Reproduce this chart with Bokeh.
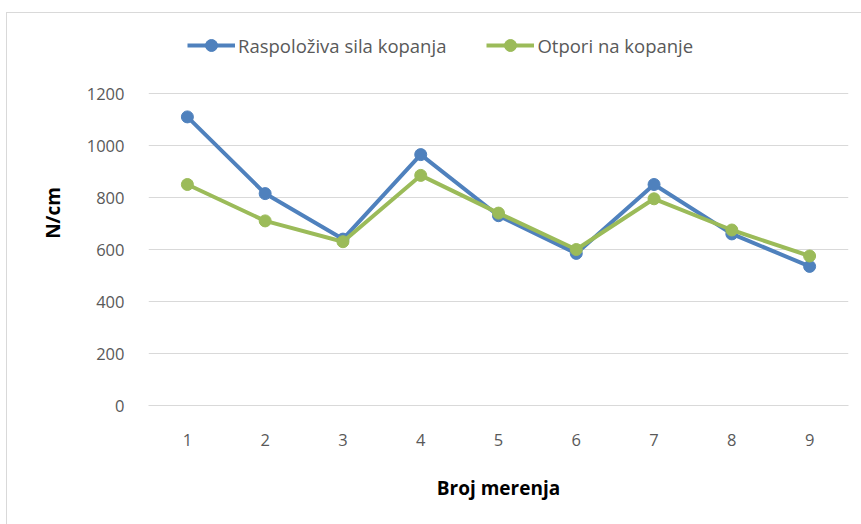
from bokeh.plotting import figure
from bokeh.models import Legend, LegendItem, FixedTicker
from bokeh.embed import file_html
from bokeh.resources import INLINE

# measurement index and the two force series (N/cm)
mjerenja = [1, 2, 3, 4, 5, 6, 7, 8, 9]
raspoloziva_sila = [1110, 815, 640, 965, 730, 585, 850, 660, 535]
otpori = [850, 710, 630, 885, 740, 600, 795, 675, 575]
y_ticks = [0, 200, 400, 600, 800, 1000, 1200]

BLUE = "#4F81BD"
GREEN = "#9BBB59"
GRID = "#d9d9d9"
TEXT = "#595959"
FONT = "Open Sans"

# the frame reaches up to hold the legend; the value axis itself stops at 1200
FIG_H = 512
TOP, BOTTOM = 7, 120
PLOT_PX = 312                      # pixel height of the 0..1200 band
frame_px = FIG_H - TOP - BOTTOM
y_top = 1200 * frame_px / PLOT_PX

p = figure(
    width=855, height=FIG_H,
    x_range=(0.5, 9.5), y_range=(0, y_top),
    output_backend="svg", toolbar_location=None,
    min_border_left=141, min_border_right=14,
    min_border_top=TOP, min_border_bottom=BOTTOM,
)
p.margin = (12, 0, 0, 6)
p.styles = {"border-top": f"1px solid {GRID}", "border-left": f"1px solid {GRID}"}
p.outline_line_color = None
p.background_fill_color = "white"
p.border_fill_color = "white"

# axes
p.xaxis.ticker = FixedTicker(ticks=mjerenja)
p.yaxis.ticker = FixedTicker(ticks=y_ticks)
for ax in (p.xaxis, p.yaxis):
    ax.major_tick_line_color = None
    ax.minor_tick_line_color = None
    ax.major_label_text_font = FONT
    ax.major_label_text_font_size = "16.5px"
    ax.major_label_text_color = TEXT
    ax.axis_label_text_font = FONT
    ax.axis_label_text_font_style = "bold"
    ax.axis_label_text_font_size = "19px"
    ax.axis_label_text_color = "#000000"
p.xaxis.axis_line_color = GRID
p.yaxis.axis_line_color = None
p.xaxis.major_label_standoff = 22
p.yaxis.major_label_standoff = 18
p.xaxis.axis_label = "Broj merenja"
p.yaxis.axis_label = "N/cm"
p.xaxis.axis_label_standoff = 26
p.yaxis.axis_label_standoff = 18

p.xgrid.grid_line_color = None
p.ygrid.grid_line_color = GRID
p.ygrid.grid_line_width = 1

# series
l1 = p.line(mjerenja, raspoloziva_sila, line_color=BLUE, line_width=4)
s1 = p.scatter(mjerenja, raspoloziva_sila, size=12, fill_color=BLUE, line_color=BLUE)
l2 = p.line(mjerenja, otpori, line_color=GREEN, line_width=4)
s2 = p.scatter(mjerenja, otpori, size=12, fill_color=GREEN, line_color=GREEN)

legend = Legend(
    items=[
        LegendItem(label="Raspoloživa sila kopanja", renderers=[l1, s1]),
        LegendItem(label="Otpori na kopanje", renderers=[l2, s2]),
    ],
    orientation="horizontal",
    location=(39, 345),
    glyph_width=48, glyph_height=30,
    label_standoff=3, spacing=40,
    padding=0, margin=0,
    border_line_color=None, background_fill_alpha=0,
    label_text_font=FONT, label_text_font_size="18.5px", label_text_color=TEXT,
)
p.add_layout(legend, "center")

open("out.html", "w").write(file_html(p, INLINE))
